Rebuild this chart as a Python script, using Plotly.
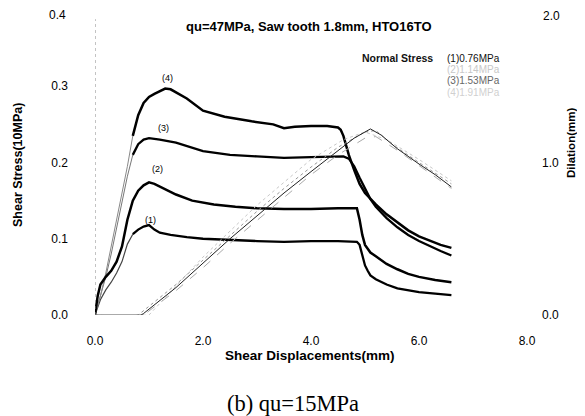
import plotly.graph_objects as go

# ---- data ----
# shear stress (10MPa) vs shear displacement (mm)
rise1_x = [0.0, 0.1, 0.2, 0.3, 0.4, 0.5, 0.6, 0.7]
rise1_y = [0.0, 0.02, 0.033, 0.043, 0.055, 0.07, 0.093, 0.106]
shear1_x = [0.7, 0.8, 0.9, 1.0, 1.1, 1.2, 1.4, 1.7, 2.0, 2.5, 3.0, 3.5, 4.0, 4.5, 4.85,
            4.9, 4.95, 5.0, 5.05, 5.1, 5.2, 5.4, 5.6, 5.8, 6.0, 6.3, 6.6]
shear1_y = [0.106, 0.112, 0.116, 0.118, 0.112, 0.108, 0.105, 0.102, 0.1, 0.098, 0.097, 0.096, 0.097, 0.097, 0.096,
            0.092, 0.08, 0.065, 0.058, 0.052, 0.047, 0.04, 0.035, 0.032, 0.03, 0.028, 0.026]

shear2_x = [0.0, 0.05, 0.1, 0.2, 0.3, 0.4, 0.5, 0.6, 0.7, 0.8, 0.9, 1.0, 1.1, 1.3, 1.5, 1.8, 2.2, 2.6,
            3.0, 3.5, 4.0, 4.5, 4.85, 4.9, 4.95, 5.0, 5.1, 5.2, 5.4, 5.6, 5.8, 6.0, 6.3, 6.6]
shear2_y = [0.0, 0.025, 0.04, 0.05, 0.058, 0.07, 0.09, 0.125, 0.15, 0.163, 0.17, 0.174, 0.172, 0.165, 0.158,
            0.15, 0.145, 0.142, 0.14, 0.139, 0.139, 0.14, 0.14, 0.125, 0.105, 0.092, 0.082, 0.077, 0.067,
            0.06, 0.054, 0.05, 0.046, 0.043]

rise3_x = [0.0, 0.1, 0.2, 0.3, 0.4, 0.5, 0.6, 0.7]
rise3_y = [0.0, 0.025, 0.05, 0.08, 0.115, 0.15, 0.182, 0.21]
shear3_x = [0.7, 0.8, 0.9, 1.0, 1.2, 1.5, 2.0, 2.5, 3.0, 3.5, 4.0, 4.4, 4.6, 4.7, 4.8, 4.9, 5.0,
            5.1, 5.2, 5.4, 5.6, 5.8, 6.0, 6.2, 6.4, 6.6]
shear3_y = [0.21, 0.224, 0.23, 0.232, 0.23, 0.226, 0.215, 0.21, 0.208, 0.206, 0.207, 0.208, 0.208, 0.205,
            0.195, 0.18, 0.165, 0.152, 0.142, 0.127, 0.115, 0.105, 0.097, 0.09, 0.084, 0.078]

rise4_x = [0.0, 0.1, 0.2, 0.3, 0.4, 0.5, 0.6, 0.7]
rise4_y = [0.0, 0.025, 0.055, 0.09, 0.125, 0.16, 0.195, 0.235]
shear4_x = [0.7, 0.8, 0.9, 1.0, 1.1, 1.2, 1.3, 1.4, 1.5, 1.7, 2.0, 2.4, 2.9, 3.3, 3.5, 3.7, 4.0, 4.3,
            4.5, 4.55, 4.6, 4.7, 4.8, 4.9, 5.0, 5.1, 5.2, 5.4, 5.6, 5.8, 6.0, 6.2, 6.4, 6.6]
shear4_y = [0.235, 0.262, 0.278, 0.286, 0.29, 0.293, 0.297, 0.296, 0.292, 0.284, 0.268, 0.26, 0.254, 0.25,
            0.245, 0.247, 0.248, 0.248, 0.246, 0.243, 0.235, 0.21, 0.19, 0.172, 0.16, 0.152, 0.145, 0.132,
            0.121, 0.111, 0.103, 0.097, 0.092, 0.088]

# dilation (mm) vs shear displacement (mm)
dil1_x = [0.0, 0.1, 0.2, 0.3, 0.4, 0.5, 0.6, 0.7, 0.8, 0.9, 1.5, 2.0, 2.5, 3.0, 3.5, 4.0, 4.5, 4.8,
          5.0, 5.1, 5.3, 5.6, 6.0, 6.3, 6.6]
dil1_y = [0.0, -0.01, -0.025, -0.035, -0.04, -0.042, -0.038, -0.028, -0.012, 0.01, 0.18, 0.34, 0.5, 0.65,
          0.8, 0.94, 1.08, 1.16, 1.2, 1.22, 1.18, 1.09, 0.99, 0.92, 0.84]
dil2_x = [0.0, 0.2, 0.4, 0.6, 0.8, 1.5, 2.0, 2.5, 3.0, 3.5, 4.0, 4.5, 5.0, 5.2, 5.5, 6.0, 6.6]
dil2_y = [0.0, -0.015, -0.022, -0.015, 0.0, 0.2, 0.36, 0.52, 0.68, 0.83, 0.97, 1.1, 1.2, 1.21, 1.12, 1.0, 0.86]
dil3_x = [0.0, 0.3, 0.6, 0.9, 1.5, 2.0, 2.5, 3.0, 3.5, 4.0, 4.5, 5.0, 5.2, 5.6, 6.0, 6.6]
dil3_y = [0.0, -0.02, -0.02, 0.0, 0.16, 0.31, 0.47, 0.62, 0.77, 0.92, 1.05, 1.16, 1.17, 1.08, 0.98, 0.83]
dil4_x = [0.0, 0.5, 1.0, 2.0, 3.0, 4.0, 4.6, 5.0, 5.4, 6.0, 6.6]
dil4_y = [0.0, -0.01, 0.0, 0.38, 0.72, 1.02, 1.15, 1.2, 1.15, 1.02, 0.88]

x_ticks = [0, 2, 4, 6, 8]
x_ticktext = ["0.0", "2.0", "4.0", "6.0", "8.0"]
y_ticks = [0.0, 0.1, 0.2, 0.3]
y_ticktext = ["0.0", "0.1", "0.2", "0.3"]
y_top_tick = 0.4
y_top_text = "0.4"
y2_ticks = [0.0, 1.0]
y2_ticktext = ["0.0", "1.0"]
y2_top_tick = 2.0
y2_top_text = "2.0"

curve_labels = ["(1)", "(2)", "(3)", "(4)"]
label_x = [1.02, 1.15, 1.26, 1.35]
label_y = [0.125, 0.191, 0.245, 0.311]

legend_lines = ["(1)0.76MPa", "(2)1.14MPa", "(3)1.53MPa", "(4)1.91MPa"]

# ---- figure ----
fig = go.Figure()

def add(x, y, color, width, dash="solid", axis="y"):
    fig.add_trace(go.Scatter(x=x, y=y, mode="lines", yaxis=axis,
                             line=dict(color=color, width=width, dash=dash),
                             showlegend=False, hoverinfo="skip"))

# dilation curves (right axis)
add(dil4_x, dil4_y, "#c8c8c8", 1, "dot", "y2")
add(dil3_x, dil3_y, "#aaaaaa", 1, "dash", "y2")
add(dil2_x, dil2_y, "#999999", 1, "dot", "y2")
add(dil1_x, dil1_y, "#222222", 1, "solid", "y2")

# shear curves
add(rise1_x, rise1_y, "#444444", 1.2)
add(rise3_x, rise3_y, "#777777", 1)
add(rise4_x, rise4_y, "#888888", 1)
add(shear1_x, shear1_y, "#000000", 2.3)
add(shear2_x, shear2_y, "#000000", 2.5)
add(shear3_x, shear3_y, "#000000", 2.3)
add(shear4_x, shear4_y, "#000000", 2.5)

ann = []
for t, lx, ly in zip(curve_labels, label_x, label_y):
    ann.append(dict(x=lx, y=ly, xref="x", yref="y", text=t, showarrow=False,
                    font=dict(family="Liberation Sans", size=9, color="#000")))

# page offset of the plot inside the browser window (body margin)
OFF = 8
# pixel-positioned texts (page coordinates of the reference)
ann.append(dict(x=68, y=15, text=y_top_text, xanchor="right", showarrow=False,
                font=dict(family="Liberation Sans", size=12, color="#000")))
ann.append(dict(x=541, y=16, text=y2_top_text, xanchor="left", showarrow=False,
                font=dict(family="Liberation Sans", size=12, color="#000")))
ann.append(dict(x=309, y=27, text="<b>qu=47MPa, Saw tooth 1.8mm, HTO16TO</b>",
                showarrow=False, font=dict(family="Liberation Sans", size=13, color="#000")))
ann.append(dict(x=435, y=58, text="<b>Normal Stress</b>", xanchor="right", showarrow=False,
                font=dict(family="Liberation Sans", size=10.5, color="#111")))
leg_colors = ["#111111", "#c8c8c8", "#666666", "#d0d0d0"]
leg_y = [58, 69, 80, 92]
for t, c, ly in zip(legend_lines, leg_colors, leg_y):
    ann.append(dict(x=502, y=ly, text=t, xanchor="right", showarrow=False,
                    font=dict(family="Liberation Sans", size=10, color=c)))
ann.append(dict(x=310, y=355, text="<b>Shear Displacements(mm)</b>", showarrow=False,
                font=dict(family="Liberation Sans", size=13.5, color="#000")))
ann.append(dict(x=18, y=165, text="<b>Shear Stress(10MPa)</b>", showarrow=False, textangle=-90,
                font=dict(family="Liberation Sans", size=12.5, color="#000")))
ann.append(dict(x=571, y=143, text="<b>Dilation(mm)</b>", showarrow=False, textangle=-90,
                font=dict(family="Liberation Sans", size=11.5, color="#000")))
ann.append(dict(x=293, y=403, text="(b) qu=15MPa", showarrow=False,
                font=dict(family="Liberation Serif", size=22.5, color="#000")))

# plot area in reference page pixels
L, R, T, B = 95, 527, 10, 315
W, H = 585 - OFF, 416 - OFF
for a in ann:
    if a.get("xref") != "x":
        a["xref"] = "paper"
        a["yref"] = "paper"
        a["x"] = (a["x"] - L) / (R - L)
        a["y"] = (B - a["y"]) / (B - T)
    a.setdefault("xanchor", "center")
    a.setdefault("yanchor", "middle")

fig.update_layout(
    width=W, height=H,
    margin=dict(l=L - OFF, r=585 - R, t=T - OFF, b=416 - B, autoexpand=False),
    paper_bgcolor="white", plot_bgcolor="white",
    annotations=ann,
    xaxis=dict(range=[0, 8], tickvals=x_ticks, ticktext=x_ticktext, showgrid=False, zeroline=False,
               showline=False, ticks="", ticklabelstandoff=17, automargin=False,
               ticklabeloverflow="allow",
               tickfont=dict(family="Liberation Sans", size=12, color="#000")),
    yaxis=dict(range=[0, y_top_tick], tickvals=y_ticks, ticktext=y_ticktext, showgrid=False, zeroline=False,
               showline=False, ticks="", ticklabelstandoff=26, automargin=False,
               ticklabeloverflow="allow",
               tickfont=dict(family="Liberation Sans", size=12, color="#000")),
    yaxis2=dict(range=[0, y2_top_tick], tickvals=y2_ticks, ticktext=y2_ticktext, overlaying="y", side="right",
                showgrid=False, zeroline=False, showline=False, ticks="", ticklabelstandoff=14,
                automargin=False, ticklabeloverflow="allow",
                tickfont=dict(family="Liberation Sans", size=12, color="#000")),
    shapes=[
        dict(type="line", xref="x", yref="paper", x0=0, x1=0, y0=0, y1=0.97,
             line=dict(color="#888", width=1, dash="dot")),
        dict(type="line", xref="x", yref="paper", x0=8.05, x1=8.05, y0=0, y1=0.85,
             line=dict(color="#e2e2e2", width=1, dash="dot")),
        dict(type="line", xref="x", yref="y", x0=0.9, x1=8, y0=-0.003, y1=-0.003,
             line=dict(color="#e6e6e6", width=1, dash="dot")),
        dict(type="line", xref="x", yref="y", x0=0, x1=0.9, y0=0, y1=0,
             line=dict(color="#555", width=1)),
    ],
)

fig.write_html("out.html")
